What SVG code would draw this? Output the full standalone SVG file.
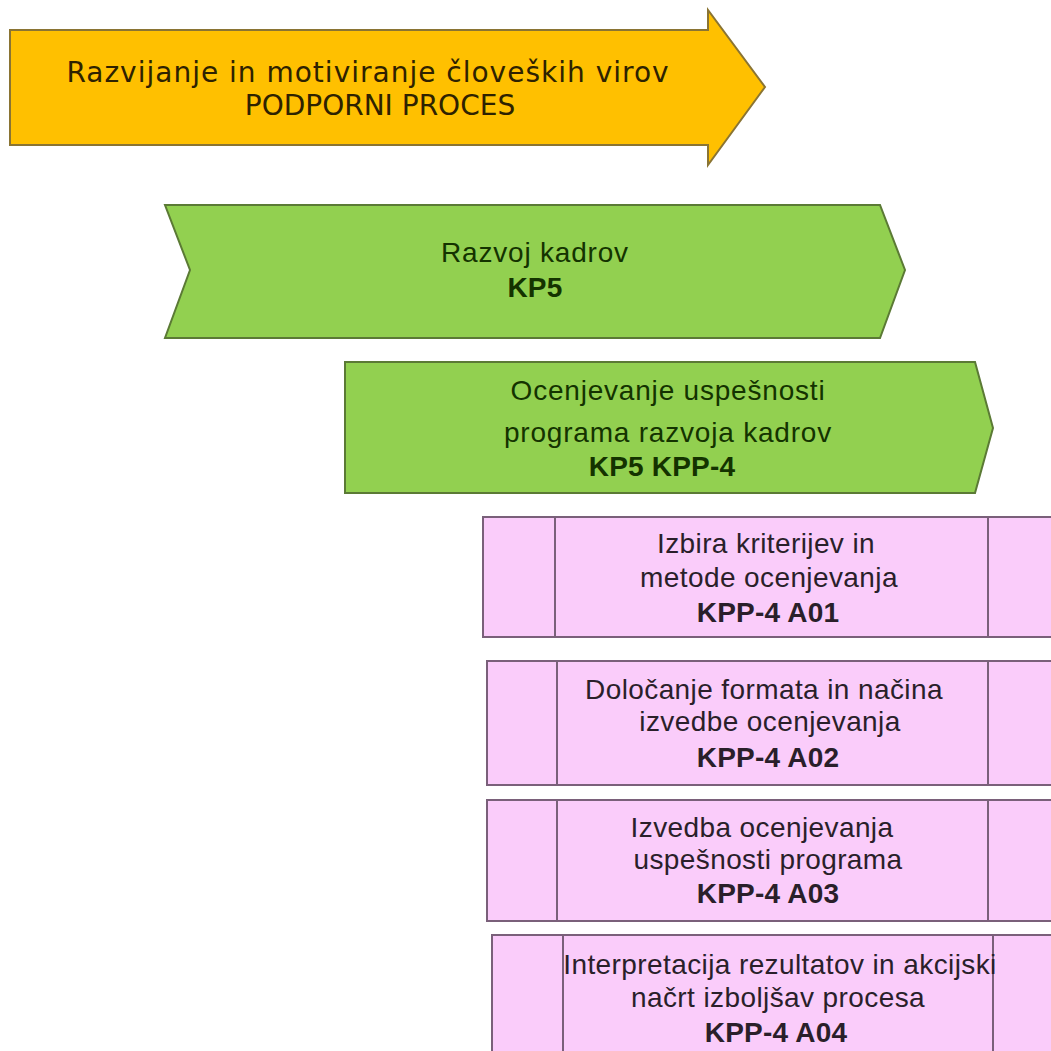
<svg xmlns="http://www.w3.org/2000/svg" width="1051" height="1051" viewBox="0 0 1051 1051">
  <style>
    .t { font-family: "Liberation Sans", Arial, sans-serif; text-anchor: middle; }
    .ttl { font-family: "DejaVu Sans", Verdana, sans-serif; font-size: 28px; fill: #2e2200; text-anchor: middle; letter-spacing: 1px; }
    .ttl2 { letter-spacing: 0px; }
    .g { font-size: 28px; fill: #143300; letter-spacing: 0.8px; }
    .p { font-size: 28px; fill: #2a1f2a; letter-spacing: 0.4px; }
    .b { font-weight: bold; letter-spacing: 0.2px; }
    .yellow { fill: #FFC000; stroke: #8a7433; stroke-width: 2; }
    .green { fill: #92D050; stroke: #5b7a35; stroke-width: 2; }
    .pink { fill: #FACCFA; stroke: #7a607a; stroke-width: 2; }
    .div { stroke: #7a607a; stroke-width: 2; }
  </style>
  <rect width="1051" height="1051" fill="#ffffff"/>

  <g id="podporni-proces">
    <polygon class="yellow" points="10,30 708,30 708,10 765,87 708,165 708,145 10,145"/>
    <text class="ttl" x="368" y="82">Razvijanje in motiviranje človeških virov</text>
    <text class="ttl ttl2" x="380" y="115">PODPORNI PROCES</text>
  </g>

  <g id="kp5">
    <polygon class="green" points="165,205 880,205 905,270 880,338 165,338 190,270"/>
    <text class="t g" x="535" y="262">Razvoj kadrov</text>
    <text class="t g b" x="535" y="297">KP5</text>
  </g>

  <g id="kpp-4">
    <polygon class="green" points="345,362 975,362 993,428 975,493 345,493"/>
    <text class="t g" x="668" y="400">Ocenjevanje uspešnosti</text>
    <text class="t g" x="668" y="442">programa razvoja kadrov</text>
    <text class="t g b" x="662" y="476">KP5 KPP-4</text>
  </g>

  <g id="kpp-4-a01">
    <rect class="pink" x="483" y="517" width="580" height="120"/>
    <line class="div" x1="555" y1="517" x2="555" y2="637"/>
    <line class="div" x1="988" y1="517" x2="988" y2="637"/>
    <text class="t p" x="766" y="553">Izbira kriterijev in</text>
    <text class="t p" x="769" y="587">metode ocenjevanja</text>
    <text class="t p b" x="768" y="622">KPP-4 A01</text>
  </g>

  <g id="kpp-4-a02">
    <rect class="pink" x="487" y="661" width="580" height="124"/>
    <line class="div" x1="557" y1="661" x2="557" y2="785"/>
    <line class="div" x1="988" y1="661" x2="988" y2="785"/>
    <text class="t p" x="764" y="699">Določanje formata in načina</text>
    <text class="t p" x="770" y="731">izvedbe ocenjevanja</text>
    <text class="t p b" x="768" y="767">KPP-4 A02</text>
  </g>

  <g id="kpp-4-a03">
    <rect class="pink" x="487" y="800" width="580" height="121"/>
    <line class="div" x1="557" y1="800" x2="557" y2="921"/>
    <line class="div" x1="988" y1="800" x2="988" y2="921"/>
    <text class="t p" x="762" y="837">Izvedba ocenjevanja</text>
    <text class="t p" x="768" y="869">uspešnosti programa</text>
    <text class="t p b" x="768" y="903">KPP-4 A03</text>
  </g>

  <g id="kpp-4-a04">
    <rect class="pink" x="492" y="935" width="580" height="130"/>
    <line class="div" x1="563" y1="935" x2="563" y2="1051"/>
    <line class="div" x1="993" y1="935" x2="993" y2="1051"/>
    <text class="t p" x="780" y="974">Interpretacija rezultatov in akcijski</text>
    <text class="t p" x="778" y="1007">načrt izboljšav procesa</text>
    <text class="t p b" x="776" y="1042">KPP-4 A04</text>
  </g>

  <g id="connectors"></g>
</svg>
